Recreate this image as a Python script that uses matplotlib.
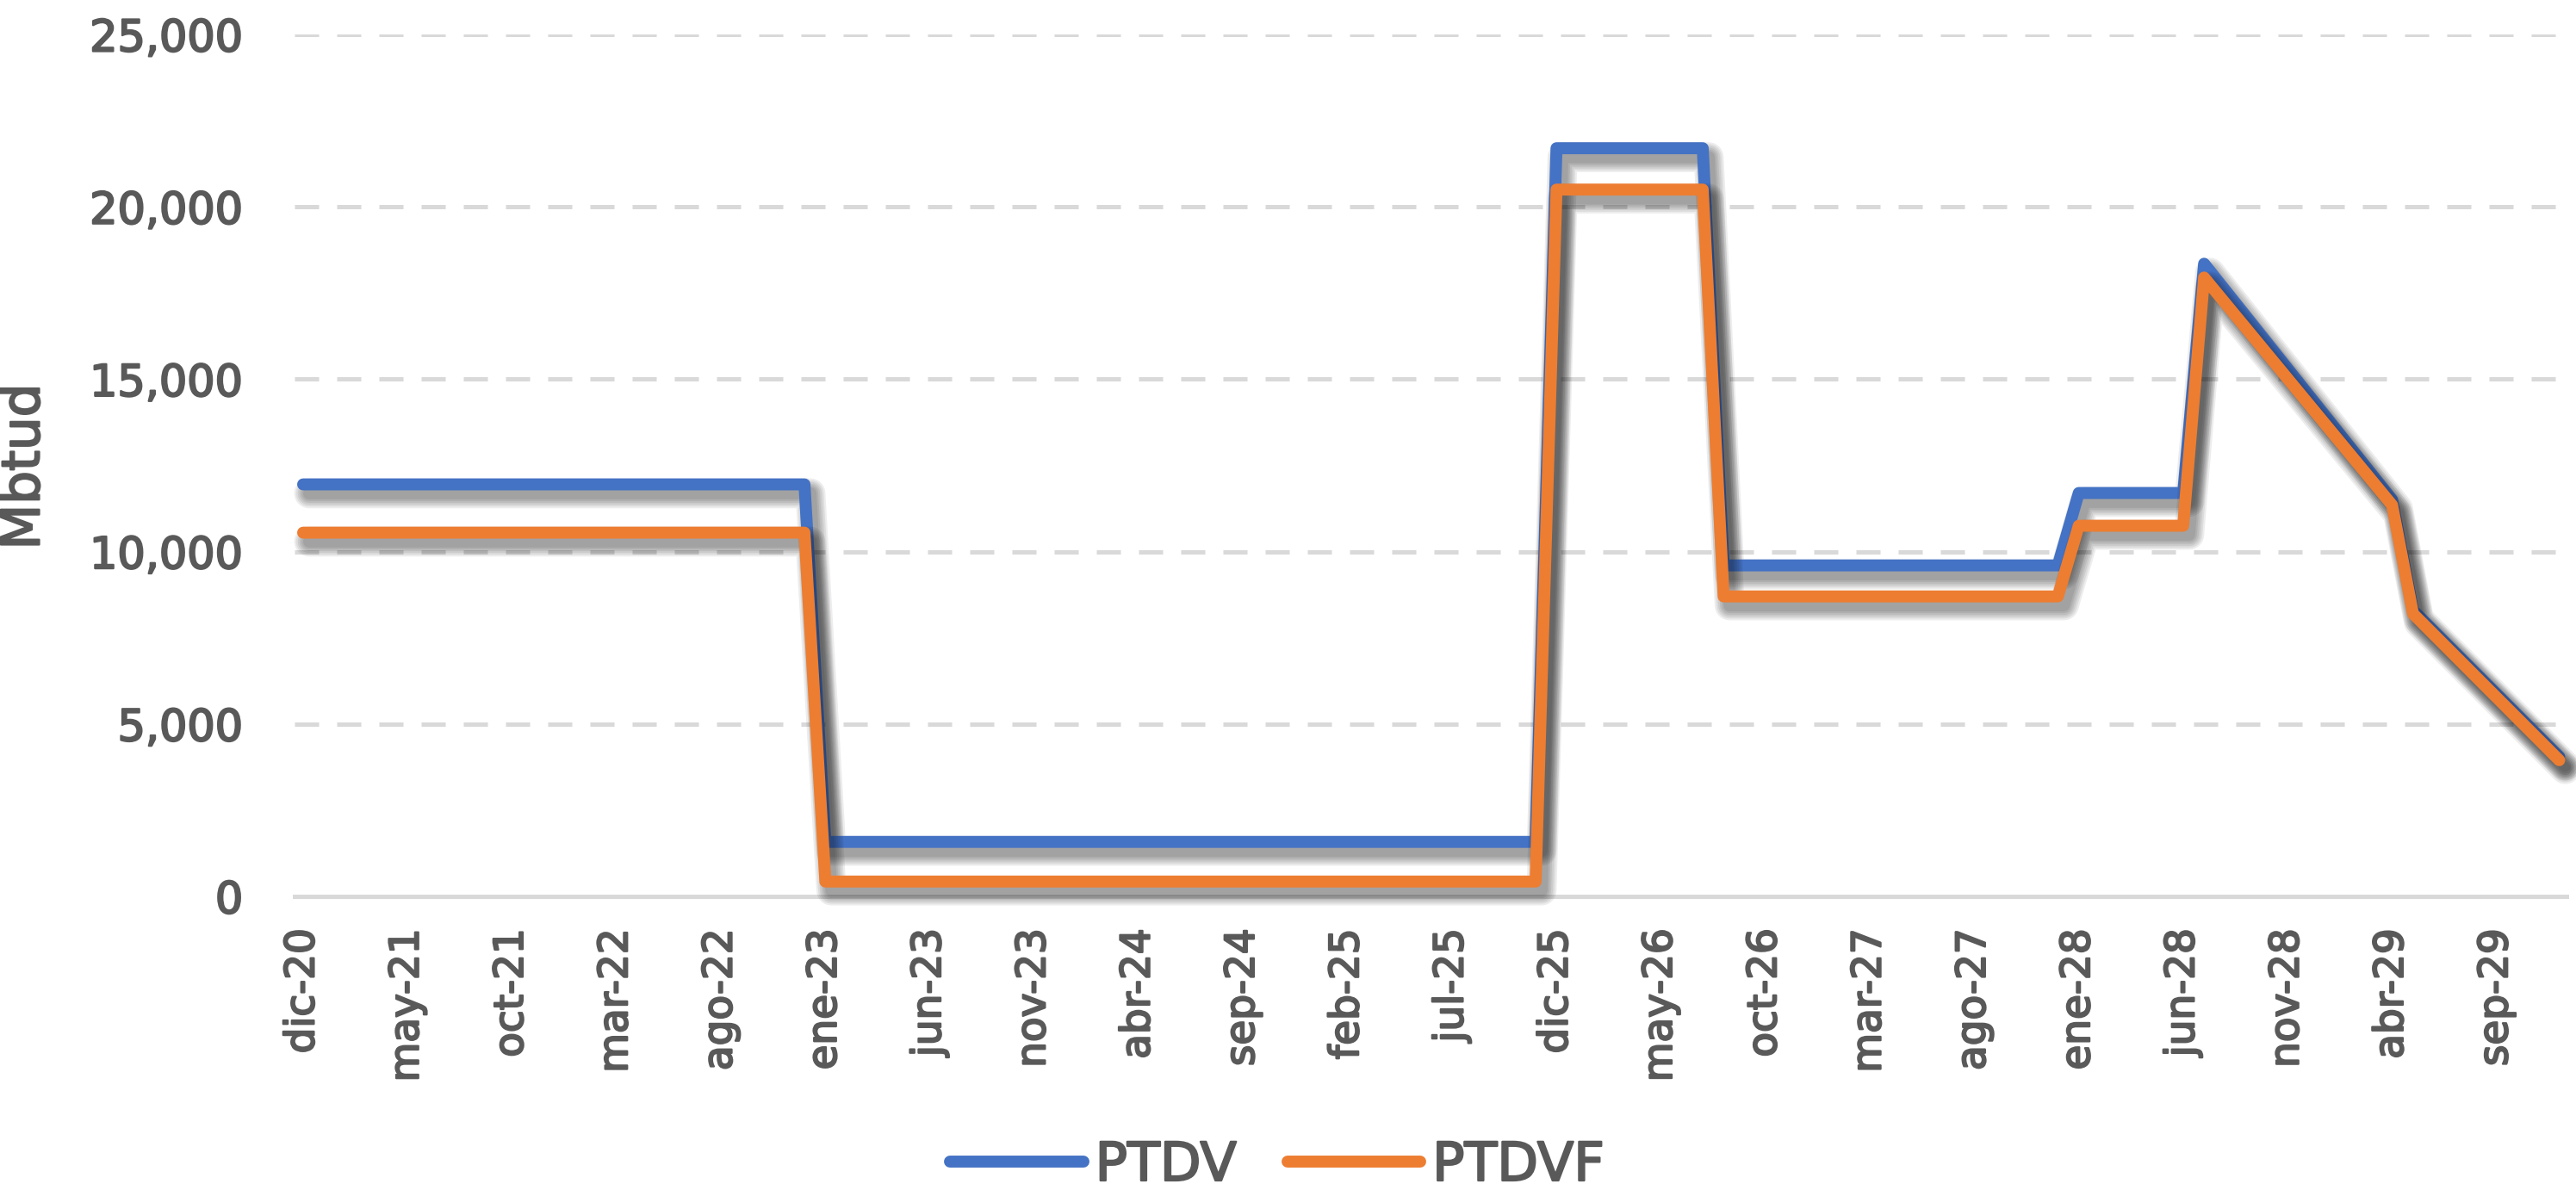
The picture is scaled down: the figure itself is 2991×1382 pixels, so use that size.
import matplotlib
matplotlib.use("Agg")
import matplotlib.pyplot as plt
import matplotlib.patheffects as pe
from matplotlib.lines import Line2D

# ---------------- data ----------------
tick_labels = ["dic-20", "may-21", "oct-21", "mar-22", "ago-22", "ene-23", "jun-23",
               "nov-23", "abr-24", "sep-24", "feb-25", "jul-25", "dic-25", "may-26",
               "oct-26", "mar-27", "ago-27", "ene-28", "jun-28", "nov-28", "abr-29",
               "sep-29"]
tick_months = [0, 5, 10, 15, 20, 25, 30, 35, 40, 45, 50, 55, 60, 65, 70, 75, 80,
               85, 90, 95, 100, 105]

# month index (0 = dic-20) of each break point of the series
point_month = [0, 24, 25, 59, 60, 67, 68, 84, 85, 90, 91, 100, 101, 108]
ptdv = [11950, 11950, 1580, 1580, 21700, 21700, 9600, 9600, 11700, 11700,
        18350, 11500, 8300, 4050]
ptdvf = [10550, 10550, 430, 430, 20500, 20500, 8700, 8700, 10750, 10750,
         17950, 11350, 8200, 3950]

y_ticks = [0, 5000, 10000, 15000, 20000, 25000]
y_tick_labels = ["0", "5,000", "10,000", "15,000", "20,000", "25,000"]

series_names = ["PTDV", "PTDVF"]
series_colors = ["#4472C4", "#ED7D31"]

# ---------------- figure ----------------
W, H, DPI = 2991, 1382, 100
TXT = "#595959"
GRID = "#d9d9d9"
plt.rcParams["font.family"] = ["DejaVu Sans"]

fig = plt.figure(figsize=(W / DPI, H / DPI), dpi=DPI)
left, right = 342 / W, 2980 / W
bottom, top = 1 - 1041 / H, 1 - 40 / H
ax = fig.add_axes([left, bottom, right - left, top - bottom])

LW = 10.0  # points (~14 px)
text_fx = [pe.withStroke(linewidth=1.6, foreground=TXT)]


def shadow_effects(lw):
    effs = []
    for k in (0, 3, 6, 9, 12, 15):
        effs.append(pe.SimpleLineShadow(offset=(5, -7.5), shadow_color="black",
                                        alpha=0.07, linewidth=lw + k))
    effs.append(pe.Normal())
    return effs


for vals, col in zip([ptdv, ptdvf], series_colors):
    ax.plot(point_month, vals, color=col, lw=LW, solid_capstyle="round",
            solid_joinstyle="round", clip_on=False, zorder=3,
            path_effects=shadow_effects(LW))

ax.set_xlim(-0.41, 108.35)
ax.set_ylim(0, 25000)

ax.set_yticks(y_ticks)
ax.set_yticklabels(y_tick_labels)
ax.set_xticks(tick_months)
ax.set_xticklabels(tick_labels, rotation=90)

ax.set_axisbelow(True)
ax.yaxis.grid(True, color=GRID, lw=3.6, linestyle=(0, (5.6, 4.2)))
ax.xaxis.grid(False)
for s in ("top", "right", "left"):
    ax.spines[s].set_visible(False)
ax.spines["bottom"].set_color(GRID)
ax.spines["bottom"].set_linewidth(3.6)
ax.spines["bottom"].set_zorder(2)

ax.tick_params(axis="both", length=0, colors=TXT)
ax.tick_params(axis="y", labelsize=36.6, pad=43)
ax.tick_params(axis="x", labelsize=33.8, pad=26.6)
for lab in ax.get_xticklabels() + ax.get_yticklabels():
    lab.set_path_effects(text_fx)

fig.text(29 / W, 1 - 542 / H, "Mbtud", rotation=90, ha="center", va="center",
         fontsize=44, color=TXT, path_effects=text_fx)

handles = [Line2D([0], [0], color=c, lw=LW, solid_capstyle="round")
           for c in series_colors]
leg = fig.legend(handles, series_names, loc="center",
                 bbox_to_anchor=(1483 / W, 1 - 1354 / H), ncol=2, frameon=False,
                 fontsize=44.6, labelcolor=TXT, handlelength=2.5,
                 handletextpad=0.22, columnspacing=0.95, borderpad=0,
                 borderaxespad=0)
for t in leg.get_texts():
    t.set_path_effects(text_fx)

fig.savefig("out.png", dpi=DPI, facecolor="white")
